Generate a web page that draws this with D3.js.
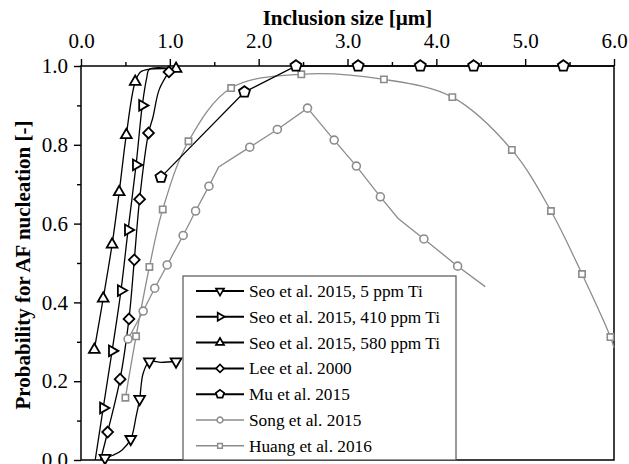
<!DOCTYPE html>
<html lang="en">
<head>
<meta charset="UTF-8">
<title>Probability for AF nucleation</title>
<script src="https://d3js.org/d3.v7.min.js"></script>
<style>
    body { margin: 0; background: #fff; }
</style>
</head>
<body>
<svg id="chart" width="629" height="464"></svg>
<script>
// tick values
const xTicks = [0, 1, 2, 3, 4, 5, 6];
const xMinorTicks = [0.5, 1.5, 2.5, 3.5, 4.5, 5.5];
const yTicks = [0, 0.2, 0.4, 0.6, 0.8, 1.0];
const yMinorTicks = [0.1, 0.3, 0.5, 0.7, 0.9];

const legendLabels = [
    "Seo et al. 2015, 5 ppm Ti",
    "Seo et al. 2015, 410 ppm Ti",
    "Seo et al. 2015, 580 ppm Ti",
    "Lee et al. 2000",
    "Mu et al. 2015",
    "Song et al. 2015",
    "Huang et al. 2016"
];

// Seo 2015, 5 ppm Ti
const seo5MarkX = [0.27, 0.56, 0.66, 0.77, 1.07];
const seo5MarkY = [0.005, 0.053, 0.155, 0.25, 0.25];
const seo5LineX = [0.27, 0.36, 0.46, 0.56, 0.62, 0.66, 0.70, 0.77, 0.90, 1.07];
const seo5LineY = [0.005, 0.012, 0.025, 0.053, 0.11, 0.155, 0.22, 0.25, 0.248, 0.25];

// Seo 2015, 410 ppm Ti
const seo410MarkX = [0.25, 0.35, 0.45, 0.53, 0.62, 0.69];
const seo410MarkY = [0.132, 0.277, 0.43, 0.584, 0.749, 0.90];
const seo410LineX = [0.16, 0.25, 0.35, 0.45, 0.53, 0.62, 0.69, 0.74, 0.77, 1.07];
const seo410LineY = [0.0, 0.132, 0.277, 0.43, 0.584, 0.749, 0.90, 0.97, 0.992, 0.992];

// Seo 2015, 580 ppm Ti
const seo580MarkX = [0.15, 0.25, 0.35, 0.43, 0.51, 0.61, 1.07];
const seo580MarkY = [0.28, 0.41, 0.547, 0.68, 0.825, 0.96, 0.993];
const seo580LineX = [0.15, 0.25, 0.35, 0.43, 0.51, 0.61, 0.67, 0.77, 1.07];
const seo580LineY = [0.28, 0.41, 0.547, 0.68, 0.825, 0.96, 0.985, 0.992, 0.993];

// Lee 2000
const leeMarkX = [0.30, 0.44, 0.54, 0.60, 0.66, 0.76, 0.99];
const leeMarkY = [0.071, 0.205, 0.358, 0.508, 0.662, 0.83, 0.985];
const leeLineX = [0.22, 0.30, 0.44, 0.54, 0.60, 0.66, 0.76, 0.81, 0.88, 0.99];
const leeLineY = [0.0, 0.071, 0.205, 0.358, 0.508, 0.662, 0.83, 0.87, 0.94, 0.985];

// Mu 2015
const muMarkX = [0.90, 1.84, 2.42, 3.12, 3.82, 4.42, 5.43];
const muMarkY = [0.718, 0.934, 1.0, 1.0, 1.0, 1.0, 1.0];
const muLineX = [0.90, 1.84, 2.42, 3.12, 3.82, 4.42, 5.43, 6.0];
const muLineY = [0.718, 0.934, 1.0, 1.0, 1.0, 1.0, 1.0, 1.0];

// Song 2015
const songMarkX = [0.53, 0.70, 0.83, 0.97, 1.15, 1.29, 1.44, 1.90, 2.21, 2.55, 2.85, 3.10, 3.37, 3.86, 4.24];
const songMarkY = [0.307, 0.378, 0.436, 0.495, 0.570, 0.632, 0.695, 0.794, 0.839, 0.893, 0.812, 0.746, 0.668, 0.561, 0.492];
const songLineX = [0.53, 0.70, 0.83, 0.97, 1.15, 1.29, 1.44, 1.55, 1.90, 2.21, 2.55, 2.85, 3.10, 3.37, 3.57, 3.86, 4.24, 4.55];
const songLineY = [0.307, 0.378, 0.436, 0.495, 0.570, 0.632, 0.695, 0.744, 0.794, 0.839, 0.893, 0.812, 0.746, 0.668, 0.613, 0.561, 0.492, 0.44];

// Huang 2016
const huangMarkX = [0.50, 0.62, 0.77, 0.92, 1.21, 1.69, 2.48, 3.41, 4.18, 4.85, 5.29, 5.64, 5.96];
const huangMarkY = [0.158, 0.314, 0.49, 0.636, 0.809, 0.944, 0.979, 0.966, 0.921, 0.787, 0.632, 0.472, 0.312];
const huangLineX = [0.50, 0.62, 0.77, 0.92, 1.21, 1.69, 2.48, 3.41, 4.18, 4.85, 5.29, 5.64, 5.96, 6.0];
const huangLineY = [0.158, 0.314, 0.49, 0.636, 0.809, 0.944, 0.979, 0.966, 0.921, 0.787, 0.632, 0.472, 0.312, 0.285];

const black = "#000";
const gray = "#8c8c8c";
const serif = '"Liberation Serif", serif';

// pentagon marker for Mu et al.
const symbolPentagon = {
    draw(context, size) {
        const r = Math.sqrt(size / 2.378);
        for (let i = 0; i < 5; ++i) {
            const a = -Math.PI / 2 + i * 2 * Math.PI / 5;
            const px = r * Math.cos(a), py = r * Math.sin(a);
            if (i === 0) context.moveTo(px, py); else context.lineTo(px, py);
        }
        context.closePath();
    }
};

const zip = (xs, ys) => xs.map((v, i) => [v, ys[i]]);

const series = [
    { mark: zip(seo5MarkX, seo5MarkY), line: zip(seo5LineX, seo5LineY), color: black, type: d3.symbolTriangle, rot: 180, size: 50, curve: d3.curveCatmullRom },
    { mark: zip(seo410MarkX, seo410MarkY), line: zip(seo410LineX, seo410LineY), color: black, type: d3.symbolTriangle, rot: 90, size: 50, curve: d3.curveCatmullRom },
    { mark: zip(seo580MarkX, seo580MarkY), line: zip(seo580LineX, seo580LineY), color: black, type: d3.symbolTriangle, rot: 0, size: 50, curve: d3.curveCatmullRom },
    { mark: zip(leeMarkX, leeMarkY), line: zip(leeLineX, leeLineY), color: black, type: d3.symbolSquare, rot: 45, size: 58, curve: d3.curveCatmullRom },
    { mark: zip(muMarkX, muMarkY), line: zip(muLineX, muLineY), color: black, type: symbolPentagon, rot: 0, size: 80, curve: d3.curveLinear },
    { mark: zip(songMarkX, songMarkY), line: zip(songLineX, songLineY), color: gray, type: d3.symbolCircle, rot: 0, size: 50, curve: d3.curveLinear },
    { mark: zip(huangMarkX, huangMarkY), line: zip(huangLineX, huangLineY), color: gray, type: d3.symbolSquare, rot: 0, size: 40, curve: d3.curveCatmullRom }
];

const width = 629, height = 464;
const margin = { top: 66, right: 15, bottom: 4, left: 81 };

const svg = d3.select("#chart");

const x = d3.scaleLinear().domain([0, 6]).range([margin.left, width - margin.right]);
const y = d3.scaleLinear().domain([0, 1]).range([height - margin.bottom, margin.top]);

// axes (top and left)
svg.append("g")
    .attr("transform", `translate(0,${margin.top})`)
    .call(d3.axisTop(x).tickValues(xTicks).tickFormat(d3.format(".1f")).tickSize(7).tickPadding(11).tickSizeOuter(0));
svg.append("g")
    .attr("transform", `translate(0,${margin.top})`)
    .call(d3.axisTop(x).tickValues(xMinorTicks).tickFormat("").tickSize(4).tickSizeOuter(0));

svg.append("g")
    .attr("transform", `translate(${margin.left},0)`)
    .call(d3.axisLeft(y).tickValues(yTicks).tickFormat(d3.format(".1f")).tickSize(7).tickPadding(6).tickSizeOuter(0));
svg.append("g")
    .attr("transform", `translate(${margin.left},0)`)
    .call(d3.axisLeft(y).tickValues(yMinorTicks).tickFormat("").tickSize(4).tickSizeOuter(0));

svg.selectAll(".domain").remove();
svg.selectAll(".tick line").attr("stroke", black).attr("stroke-width", 1.4);
svg.selectAll(".tick text").attr("fill", black).style("font-size", "21px");

// frame
svg.append("rect")
    .attr("x", margin.left)
    .attr("y", margin.top)
    .attr("width", width - margin.left - margin.right)
    .attr("height", height - margin.top - margin.bottom)
    .attr("fill", "none")
    .attr("stroke", black)
    .attr("stroke-width", 1.5);

// axis titles
svg.append("text")
    .attr("x", (margin.left + width - margin.right) / 2)
    .attr("y", 25)
    .attr("text-anchor", "middle")
    .style("font-size", "21px")
    .style("font-weight", "bold")
    .text("Inclusion size [µm]");

svg.append("text")
    .attr("transform", "translate(30,265) rotate(-90)")
    .attr("text-anchor", "middle")
    .style("font-size", "21px")
    .style("font-weight", "bold")
    .text("Probability for AF nucleation [-]");

// lines, gray ones first
const drawOrder = [5, 6, 0, 1, 2, 3, 4];
drawOrder.forEach(i => {
    const s = series[i];
    const line = d3.line().x(d => x(d[0])).y(d => y(d[1])).curve(s.curve);
    svg.append("path")
        .datum(s.line)
        .attr("d", line)
        .attr("fill", "none")
        .attr("stroke", s.color)
        .attr("stroke-width", 1.3);
});

// markers
drawOrder.forEach(i => {
    const s = series[i];
    svg.append("g").selectAll("path")
        .data(s.mark)
        .enter().append("path")
        .attr("d", d3.symbol().type(s.type).size(s.size))
        .attr("transform", d => `translate(${x(d[0])},${y(d[1])}) rotate(${s.rot})`)
        .attr("fill", "#fff")
        .attr("stroke", s.color)
        .attr("stroke-width", s.color === black ? 1.8 : 1.6);
});

// legend
const legendBox = { x: 183, y: 276, w: 273, h: height - margin.bottom - 276 };
svg.append("rect")
    .attr("x", legendBox.x)
    .attr("y", legendBox.y)
    .attr("width", legendBox.w)
    .attr("height", legendBox.h)
    .attr("fill", "#fff")
    .attr("stroke", "#555")
    .attr("stroke-width", 1.2);

const legend = svg.append("g");
series.forEach((s, i) => {
    const cy = 291 + i * 25.8;
    legend.append("line")
        .attr("x1", 196).attr("x2", 244)
        .attr("y1", cy).attr("y2", cy)
        .attr("stroke", s.color)
        .attr("stroke-width", s.color === black ? 2 : 1.6);
    legend.append("path")
        .attr("d", d3.symbol().type(s.type).size(s.size * 0.55))
        .attr("transform", `translate(220,${cy}) rotate(${s.rot})`)
        .attr("fill", "#fff")
        .attr("stroke", s.color)
        .attr("stroke-width", s.color === black ? 1.7 : 1.5);
    legend.append("text")
        .attr("x", 249)
        .attr("y", cy)
        .attr("dy", "0.35em")
        .style("font-size", "17.3px")
        .text(legendLabels[i]);
});

// every text in the serif face
svg.selectAll("text").style("font-family", serif);
</script>
</body>
</html>
